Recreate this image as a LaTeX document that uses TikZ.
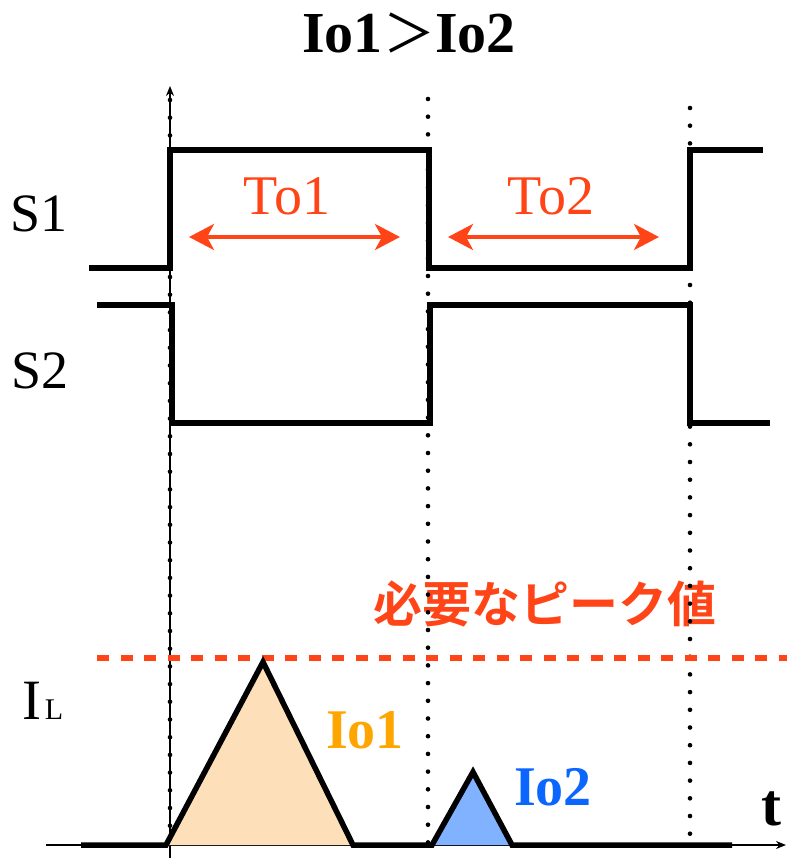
\documentclass[tikz,border=0pt]{standalone}
\usepackage{fontspec}
\setmainfont{Liberation Serif}
\newfontfamily\jp{Noto Sans CJK JP}[BoldFont={Noto Sans CJK JP Bold}]
\usetikzlibrary{arrows.meta}
\definecolor{accred}{HTML}{FF4517}
\definecolor{ioorange}{HTML}{FFA500}
\definecolor{peach}{HTML}{FDE0BA}
\definecolor{bluefill}{HTML}{80B2FF}
\definecolor{bluetext}{HTML}{0A66FF}
\tikzset{
  wave/.style={line width=5.5pt, line join=miter, line cap=butt},
  dotline/.style={line width=4.6pt, line cap=round, dash pattern=on 0pt off 17.7pt},
  axisline/.style={line width=1.4pt, -{Stealth[length=10pt,width=8pt]}},
  spanarrow/.style={accred, line width=4pt, {Stealth[length=25pt,width=26pt,inset=7pt]}-{Stealth[length=25pt,width=26pt,inset=7pt]}},
  lbl/.style={inner sep=0pt, outer sep=0pt},
}
\begin{document}
\begin{tikzpicture}[x=1pt,y=-1pt]
\useasboundingbox (0,0) rectangle (787,858);

% title
\node[lbl, anchor=base] (title) at (409,53)
  {\fontsize{58}{60}\selectfont\textbf{Io1}{\jp\fontsize{52}{54}\selectfont ＞}\textbf{Io2}};

% labels
\node[lbl, anchor=base west] (s1) at (10,232) {\fontsize{54}{56}\selectfont S1};
\node[lbl, anchor=base west] (s2) at (11,388) {\fontsize{54}{56}\selectfont S2};
\node[lbl, anchor=base west] (il) at (22,719) {\fontsize{57}{60}\selectfont I\kern4pt\fontsize{30}{32}\selectfont L};
\node[lbl, anchor=base, text=accred] (to1) at (287,215) {\fontsize{56}{58}\selectfont To1};
\node[lbl, anchor=base, text=accred] (to2) at (551,215) {\fontsize{56}{58}\selectfont To2};
\node[lbl, text=accred] (peak) at (545,604) {\jp\bfseries\fontsize{49}{52}\selectfont 必要なピーク値};
\node[lbl, anchor=base west, text=ioorange] (io1) at (326,748) {\fontsize{56}{58}\selectfont\textbf{Io1}};
\node[lbl, anchor=base west, text=bluetext] (io2) at (514,805) {\fontsize{56}{58}\selectfont\textbf{Io2}};
\node[lbl, anchor=base west] (t) at (761,825) {\fontsize{60}{62}\selectfont\textbf{t}};

% axes
\coordinate (yb) at (170,858);
\coordinate (yt) at (170,86);
\coordinate (xl) at (46,845);
\coordinate (xr) at (786,845);
\draw[axisline] (yb) -- (yt);
\draw[axisline] (xl) -- (xr);

% dotted verticals
\draw[dotline] (170,100) -- (170,858);
\draw[dotline] (428,99) -- (428,845);
\draw[dotline] (690,108) -- (690,840);

% peak level
\draw[accred, line width=6pt, dash pattern=on 12pt off 11.5pt] (97,658) -- (787,658);

% triangle fills
\fill[peach] (168,845) -- (263,662) -- (353,845) -- cycle;
\fill[bluefill] (432,845) -- (473,772) -- (512,845) -- cycle;

% IL waveform
\draw[wave] (81,845) -- (166,845) -- (263,662) -- (353,845) -- (432,845) -- (473,772) -- (512,845) -- (732,845);

% S1, S2
\draw[wave] (89,268) -- (170,268) -- (170,150) -- (429,150) -- (429,268) -- (690,268) -- (690,150) -- (763,150);
\draw[wave] (97,305) -- (172,305) -- (172,423) -- (430,423) -- (430,305) -- (690,305) -- (690,423) -- (770,423);

% span arrows
\coordinate (a1l) at (189,237);
\coordinate (a1r) at (400,237);
\coordinate (a2l) at (448,237);
\coordinate (a2r) at (659,237);
\draw[spanarrow] (a1l) -- (a1r);
\draw[spanarrow] (a2l) -- (a2r);
\end{tikzpicture}
\end{document}
